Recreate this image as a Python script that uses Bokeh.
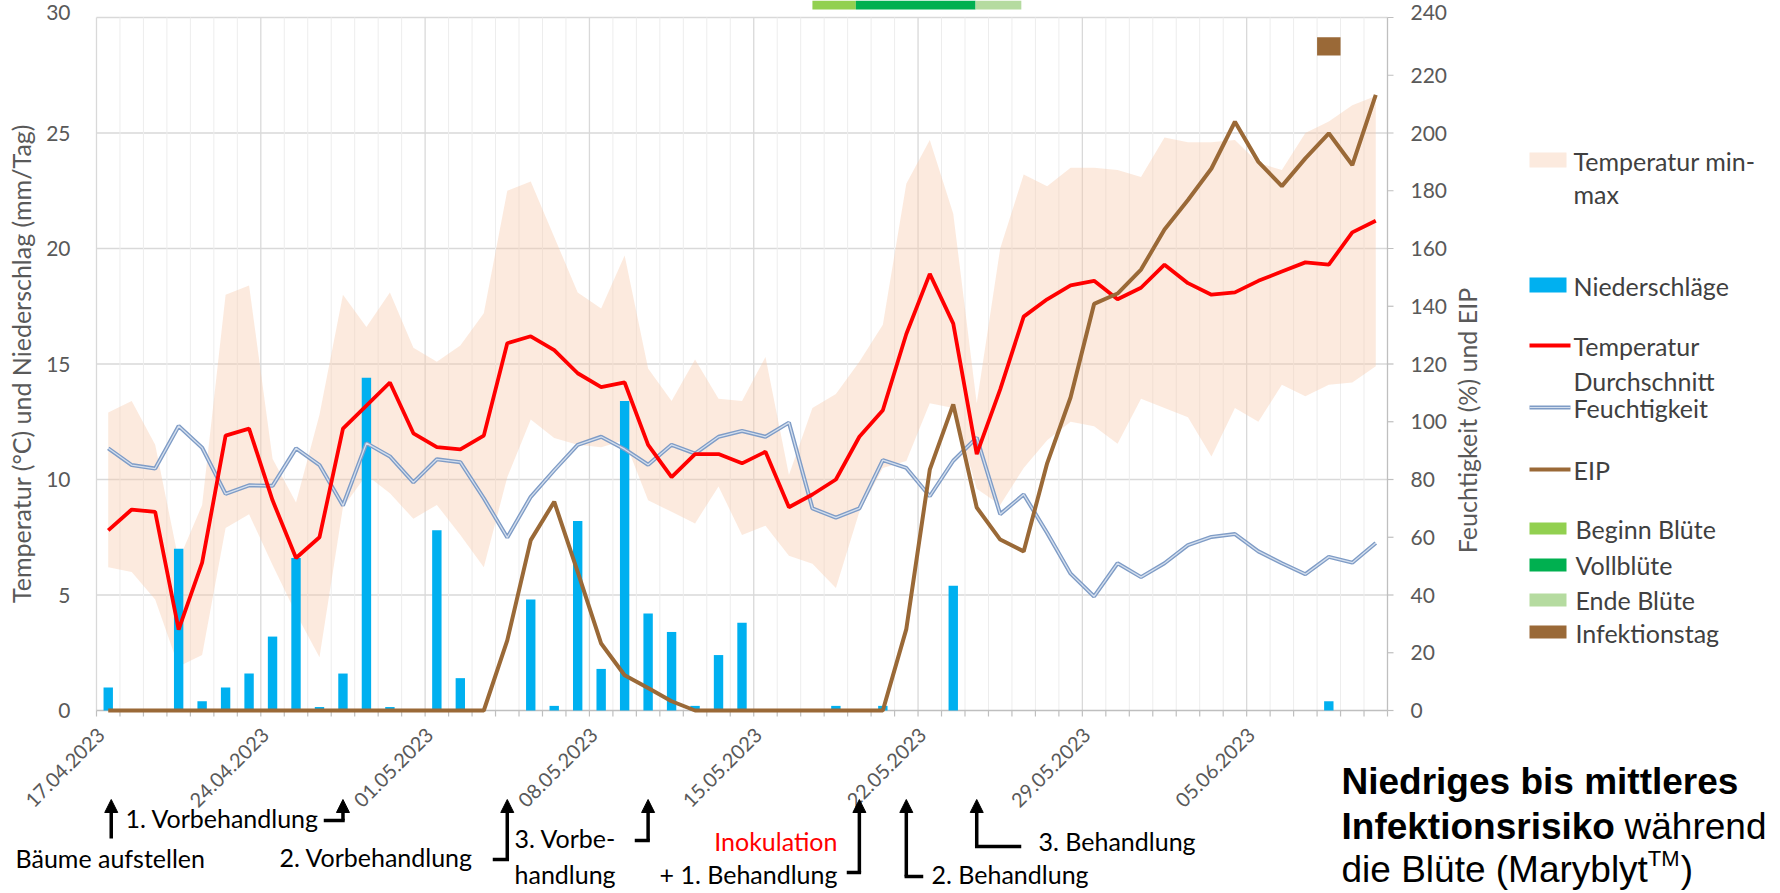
import math
from bokeh.plotting import figure
from bokeh.models import Range1d, Arrow, NormalHead
from bokeh.core.properties import value
from bokeh.embed import file_html
from bokeh.resources import INLINE

# ---------------- data ----------------
day_index = list(range(55))  # 17.04.2023 ... 10.06.2023
date_tick_days = [0, 7, 14, 21, 28, 35, 42, 49]
date_tick_labels = ["17.04.2023", "24.04.2023", "01.05.2023", "08.05.2023",
                    "15.05.2023", "22.05.2023", "29.05.2023", "05.06.2023"]
left_ticks = [0, 5, 10, 15, 20, 25, 30]
right_ticks = [0, 20, 40, 60, 80, 100, 120, 140, 160, 180, 200, 220, 240]

precip = [1.0, 0, 0, 7.0, 0.4, 1.0, 1.6, 3.2, 6.6, 0.15, 1.6, 14.4, 0.15, 0, 7.8, 1.4, 0, 0, 4.8, 0.2,
          8.2, 1.8, 13.4, 4.2, 3.4, 0.2, 2.4, 3.8, 0, 0, 0, 0.2, 0, 0.2, 0, 0, 5.4, 0, 0, 0,
          0, 0, 0, 0, 0, 0, 0, 0, 0, 0, 0, 0, 0.4, 0, 0]
temp_mean = [7.8, 8.7, 8.6, 3.5, 6.4, 11.9, 12.2, 9.1, 6.6, 7.5, 12.2, 13.2, 14.2, 12.0, 11.4, 11.3, 11.9, 15.9, 16.2, 15.6,
             14.6, 14.0, 14.2, 11.5, 10.1, 11.1, 11.1, 10.7, 11.2, 8.8, 9.35, 10.0, 11.85, 13.0, 16.3, 18.9, 16.75, 11.1, 13.9, 17.05,
             17.8, 18.4, 18.6, 17.8, 18.3, 19.3, 18.5, 18.0, 18.1, 18.6, 19.0, 19.4, 19.3, 20.7, 21.2]
temp_min = [6.2, 6.0, 4.8, 1.9, 2.4, 7.9, 8.5, 6.3, 4.2, 2.3, 8.8, 10.2, 9.4, 8.3, 8.9, 7.6, 6.2, 10.1, 12.6, 11.8,
            11.5, 11.4, 11.7, 9.1, 8.6, 8.1, 9.7, 7.6, 8.0, 6.7, 6.35, 5.3, 8.6, 10.5, 10.8, 13.3, 13.1, 9.6, 8.9, 10.5,
            11.7, 12.5, 12.3, 11.55, 13.5, 13.1, 12.7, 11.0, 13.1, 12.5, 14.1, 13.6, 14.1, 14.2, 14.9]
temp_max = [12.9, 13.4, 11.5, 6.5, 8.9, 18.0, 18.4, 10.9, 9.0, 12.8, 18.0, 16.6, 18.1, 15.7, 15.1, 15.8, 17.2, 22.5, 22.9, 20.5,
            18.1, 17.4, 19.7, 14.8, 13.4, 15.2, 13.5, 13.4, 15.3, 10.2, 13.1, 13.7, 15.1, 16.7, 22.8, 24.7, 21.5, 13.3, 20.0, 23.2,
            22.7, 23.5, 23.5, 23.4, 23.1, 24.8, 24.6, 24.6, 24.7, 23.7, 23.4, 25.0, 25.5, 26.2, 26.6]
humidity = [90.8, 85, 83.8, 98.5, 91, 75, 78, 77.8, 90.8, 85, 71, 92.6, 88, 79, 87, 86, 73.5, 59.9, 74, 83.2,
            92, 94.8, 90.5, 85.1, 92, 89, 94.8, 96.8, 94.8, 99.7, 70, 66.8, 70, 86.7, 84, 74.2, 86.5, 94.5, 68, 74.8,
            61.5, 47.4, 39.5, 51, 46.2, 51, 57.3, 60.1, 61.1, 55.1, 51, 47.2, 53.2, 51.2, 58]
eip = [0, 0, 0, 0, 0, 0, 0, 0, 0, 0, 0, 0, 0, 0, 0, 0, 0, 24.3, 59, 72.3,
       48, 23.2, 12.2, 7.8, 3.2, 0, 0, 0, 0, 0, 0, 0, 0, 0, 28.2, 83.4, 106, 70.3, 59.2, 55.1,
       85.6, 108.5, 140.8, 144.4, 152.7, 166.6, 176.8, 187.7, 203.9, 190, 181.6, 191.2, 199.9, 188.9, 213.2]

bloom_phases = ["Beginn Blüte", "Vollblüte", "Ende Blüte"]
bloom_start = [30.0, 31.85, 36.95]
bloom_end = [31.85, 36.95, 38.9]
infection_day = [52]
infection_level = [230]
event_days = [0, 10, 17, 23, 32, 34, 37]

# ---------------- styles / geometry ----------------
C_BAND = "#F8CBAD"
C_RAIN = "#00B0F0"
C_RED = "#FF0000"
C_HUM = "#7F9CC6"
C_HUM_IN = "#D4DFEE"
C_EIP = "#9A6937"
C_BLOOM = ["#92D050", "#00B050", "#B5DBA0"]
C_GRID = "#D9D9D9"
C_GRID_MINOR = "#EDEDED"
C_AXIS = "#BFBFBF"
C_TXT = "#595959"
C_LEG = "#404040"
FONT = value("Lato")
ARIAL = value("Liberation Sans")
LEG_FS = "25px"

W, H = 1780, 893
PL, PR, PT0, PB = 96, 1387, 17, 710  # picture coords of the plot area (value 30 at PT0, 0 at PB)
DX = (PR - PL) / 55.0
DY = (PB - PT0) / 30.0


def px(xp):
    return -0.5 + (xp - PL) / DX


def py(yp):
    return (PB - yp) / DY


p = figure(width=W, height=H, output_backend="svg", toolbar_location=None,
           x_range=Range1d(px(0), px(W)), y_range=Range1d(py(H), py(0)),
           x_axis_location=None, y_axis_location=None, min_border=0)
p.min_border_left = p.min_border_right = p.min_border_top = p.min_border_bottom = 0
p.outline_line_color = None
p.background_fill_color = "white"
p.border_fill_color = "white"
p.grid.visible = False
p.extra_y_ranges = {"r": Range1d(py(H) * 8, py(0) * 8)}

# ---------------- grid & axes ----------------
hy = left_ticks[1:]
p.segment(x0=[-0.5] * len(hy), y0=hy, x1=[54.5] * len(hy), y1=hy, line_color=C_GRID, line_width=1.3)
bounds = [k - 0.5 for k in range(56)]
gcols = [C_AXIS if k == 55 else (C_GRID if k % 7 == 0 else C_GRID_MINOR) for k in range(56)]
gw = [1.3 if (k % 7 == 0 or k == 55) else 1.0 for k in range(56)]
p.segment(x0=bounds, y0=[0] * 56, x1=bounds, y1=[30] * 56, line_color=gcols, line_width=gw)
# x axis line + day ticks
p.segment(x0=[-0.5], y0=[0], x1=[54.5], y1=[0], line_color=C_AXIS, line_width=1.3)
p.segment(x0=bounds, y0=[0] * 56, x1=bounds, y1=[py(PB + 6)] * 56, line_color=C_AXIS, line_width=1.2)
# right axis ticks
p.segment(x0=[54.5] * len(right_ticks), y0=right_ticks, x1=[px(PR + 6)] * len(right_ticks), y1=right_ticks,
          y_range_name="r", line_color=C_AXIS, line_width=1.2)

# tick labels
p.text(x=[px(70)] * (len(left_ticks) - 1), y=left_ticks[:-1], text=[str(t) for t in left_ticks[:-1]],
       text_font=FONT, text_font_size="21px", text_color=C_TXT, text_align="right", text_baseline="middle")
p.text(x=[px(70)], y=[py(4)], text=[str(left_ticks[-1])],
       text_font=FONT, text_font_size="21px", text_color=C_TXT, text_align="right", text_baseline="top")
p.text(x=[px(1410)] * (len(right_ticks) - 1), y=right_ticks[:-1], text=[str(t) for t in right_ticks[:-1]],
       y_range_name="r", text_font=FONT, text_font_size="21px", text_color=C_TXT,
       text_align="left", text_baseline="middle")
p.text(x=[px(1410)], y=[py(4)], text=[str(right_ticks[-1])],
       text_font=FONT, text_font_size="21px", text_color=C_TXT, text_align="left", text_baseline="top")
p.text(x=[d - 7 / DX for d in date_tick_days], y=[py(731)] * len(date_tick_days), text=date_tick_labels,
       angle=math.pi / 4, text_font=FONT, text_font_size="20px", text_color=C_TXT,
       text_align="right", text_baseline="middle")

# axis titles
p.text(x=[px(20)], y=[py(363)], text=["Temperatur (°C) und Niederschlag (mm/Tag)"], angle=math.pi / 2,
       text_font=FONT, text_font_size="25px", text_color=C_TXT, text_align="center", text_baseline="middle")
p.text(x=[px(1466)], y=[py(420)], text=["Feuchtigkeit (%) und EIP"], angle=math.pi / 2,
       text_font=FONT, text_font_size="25px", text_color=C_TXT, text_align="center", text_baseline="middle")

# ---------------- series ----------------
p.varea(x=day_index, y1=temp_min, y2=temp_max, fill_color=C_BAND, fill_alpha=0.4)
p.vbar(x=day_index, top=precip, width=0.4, fill_color=C_RAIN, line_color=None)
p.line(day_index, humidity, y_range_name="r", line_color=C_HUM, line_width=4)
p.line(day_index, humidity, y_range_name="r", line_color=C_HUM_IN, line_width=1.3)
p.line(day_index, temp_mean, line_color=C_RED, line_width=3.8)
p.line(day_index, eip, y_range_name="r", line_color=C_EIP, line_width=4)

p.quad(left=bloom_start, right=bloom_end, bottom=[py(9)] * 3, top=[py(0)] * 3,
       fill_color=C_BLOOM, line_color=None)
p.rect(x=infection_day, y=infection_level, width=1.0, height=6.3, y_range_name="r",
       fill_color=C_EIP, line_color=None)


# ---------------- legend ----------------
def txt(xp, yp, text, size="25px", color="black", align="left", baseline="middle",
        font=FONT, style="normal"):
    p.text(x=[px(xp)], y=[py(yp)], text=[text], text_font=font, text_font_size=size,
           text_color=color, text_align=align, text_baseline=baseline, text_font_style=style)


def box(x0, x1, y0, y1, color, alpha=1.0):
    p.quad(left=[px(x0)], right=[px(x1)], top=[py(y0)], bottom=[py(y1)],
           fill_color=color, fill_alpha=alpha, line_color=None)


LX0, LX1, LT = 1529, 1566, 1573
box(LX0, LX1, 152, 167, C_BAND, 0.4)
txt(LT, 160, "Temperatur min-", size=LEG_FS, color=C_LEG)
txt(LT, 193, "max", size=LEG_FS, color=C_LEG)
box(LX0, LX1, 277, 292, C_RAIN)
txt(LT, 285, "Niederschläge", size=LEG_FS, color=C_LEG)
box(LX0, LX1 + 4, 343, 347, C_RED)
txt(LT, 345, "Temperatur", size=LEG_FS, color=C_LEG)
txt(LT, 380, "Durchschnitt", size=LEG_FS, color=C_LEG)
box(LX0, LX1 + 4, 405, 409, C_HUM)
box(LX0, LX1 + 4, 406.4, 407.6, C_HUM_IN)
txt(LT, 407, "Feuchtigkeit", size=LEG_FS, color=C_LEG)
box(LX0, LX1 + 4, 467, 471, C_EIP)
txt(LT, 469, "EIP", size=LEG_FS, color=C_LEG)
for (y0, y1), col, name in zip([(522, 534), (558, 571), (593, 606)], C_BLOOM, bloom_phases):
    box(LX0, LX1, y0, y1, col)
    txt(LT + 2, (y0 + y1) / 2, name, size=LEG_FS, color=C_LEG)
box(LX0, LX1, 625, 638, C_EIP)
txt(LT + 2, 632, "Infektionstag", size=LEG_FS, color=C_LEG)


# ---------------- event arrows ----------------
def seg(x0, y0, x1, y1):
    p.segment(x0=[x0], y0=[py(y0)], x1=[x1], y1=[py(y1)], line_color="black", line_width=3.5,
              line_cap="square")


def up_arrow(x, ybot, ytip):
    p.add_layout(Arrow(x_start=x, y_start=py(ybot), x_end=x, y_end=py(ytip), line_width=3.5,
                       line_color="black",
                       end=NormalHead(size=13, fill_color="black", line_color="black", line_width=1)))


TIP = 799
d0, d1, d2, d3, d4, d5, d6 = event_days
up_arrow(d0 + 3 / DX, 838, TIP)
txt(15, 857, "Bäume aufstellen")
txt(125, 817, "1. Vorbehandlung")
seg(px(325), 820, d1, 820)
up_arrow(d1, 820, TIP)
txt(279, 856, "2. Vorbehandlung")
seg(px(494), 859, d2, 859)
up_arrow(d2, 859, TIP)
txt(514, 837, "3. Vorbe-")
txt(514, 873, "handlung")
seg(px(636), 840, d3, 840)
up_arrow(d3, 840, TIP)
txt(837, 840, "Inokulation", color="#FF0000", align="right")
txt(837, 873, "+ 1. Behandlung", align="right")
seg(px(848), 872, d4, 872)
up_arrow(d4, 872, TIP)
seg(d5, 876, px(921), 876)
up_arrow(d5, 876, TIP)
txt(931, 873, "2. Behandlung")
seg(d6, 846, px(1019), 846)
up_arrow(d6, 846, TIP)
txt(1038, 840, "3. Behandlung")

# ---------------- summary text ----------------
FS = 37
X0 = 1341
txt(X0, 781, "Niedriges bis mittleres", size=f"{FS}px", font=ARIAL, style="bold")
txt(X0, 826, "Infektionsrisiko", size=f"{FS}px", font=ARIAL, style="bold")
txt(X0 + 7.65 * FS, 826, "während", size=f"{FS}px", font=ARIAL)
txt(X0, 869, "die Blüte (Maryblyt", size=f"{FS}px", font=ARIAL)
txt(X0 + 8.28 * FS, 858, "TM", size="22px", font=ARIAL)
txt(X0 + 8.28 * FS + 33, 869, ")", size=f"{FS}px", font=ARIAL)

open("out.html", "w").write(file_html(p, INLINE))
